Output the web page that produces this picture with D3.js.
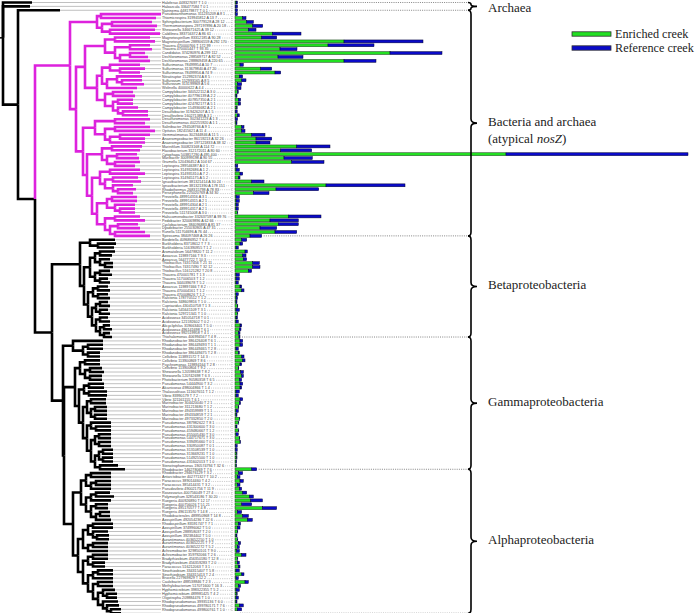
<!DOCTYPE html>
<html><head><meta charset="utf-8">
<script src="https://cdn.jsdelivr.net/npm/d3@7"></script>
<style>body{margin:0;background:#fff}svg{display:block}</style>
</head><body><svg id="c" width="696" height="613"></svg>
<script>
const taxa = [
"Haloferax 448327697 T 1 0","Haloarcula 336477584 T 0 1","Natrinema 448179877 T 0 1",
"Pseudoxanthomonas 311235209 A 8 1","Thiomicrospira 319945812 A 13 7","Sphingobacterium 300779128 A 28 12","Thermomonospora 297197896 A 20 18","Shewanella 346671625 A 39 12","Caldilinea 383756372 A 86 61",
"Magnetospirillum 83312185 A 90 28","Magnetospirillum 288906559 A 292 170","Thauera 470000766 T 172 99","Thauera 470001447 T 93 35","Candidatus 374280976 A 299 112","Dechloromonas 288569717 A 82 52","Dechloromonas 288869458 A 220 65",
"Sulfurimonas 78499954 A 10 7","Sulfurimonas 313679840 A 47 20","Sulfurimonas 78499956 A 74 9","Nitratiruptor 152992374 A 8 5","Sulfurovum 152993165 A 8 5","Sulfurovum 313199969 A 5 6","Wolinella 40000622 A 4 4",
"Campylobacter 340522112 A 3 0","Campylobacter 407796139 A 2 2","Campylobacter 407857350 A 2 1","Campylobacter 424782177 A 5 1","Campylobacter 154936682 A 2 1",
"Desulfobacter 319426207 A 1 5","Desulfovibrio 160271389 A 3 1","Desulfuromonas 302341223 A 1 3","Desulfuromonas 402255920 A 1 1",
"Salinibacter 294508766 A 9 1","Opitutus 182415621 A 11 4","Gemmatimonas 302344846 A 11 5","Anaeromyxobacter 86159213 A 32 26","Anaeromyxobacter 197121833 A 38 32",
"Marinifilum 300823168 A 114 72","Flavobacterium 312172011 A 80 60","Cytophaga 503817290 A 495 400","Maribacter 300999198 A 90 55","Gramella 120436452 A 104 67",
"Leptospira 289546387 A 0 1","Leptospira 314932686 A 1 2","Leptospira 314935310 A 7 2","Leptospira 314945175 A 5 2","Ignavibacterium 381321414 A 30 24",
"Ignavibacterium 381321390 A 178 151","Rhodothermus 268315798 A 78 83","Persephonella 225020769 A 34 30",
"Prevotella 489914316 A 3 1","Prevotella 489914315 A 2 1","Prevotella 489914304 A 2 1","Prevotella 489914317 A 2 1","Prevotella 511745008 A 3 0",
"Haliscomenobacter 332637597 A 99 76","Pedobacter 320069896 A 62 66","Cyclobacterium 384096883 A 81 37","Dyadobacter 255030905 A 47 31","Runella 511704696 A 76 44","Spirosoma 384097468 A 26 26",
"Bordetella 409686952 T 6 4","Burkholderia 83718612 T 7 3","Burkholderia 516390955 T 1 2","Aromatoleum 56478820 T 11 2","Azoarcus 119897166 T 9 3","Azoarcus 56477722 T 10 3",
"Thiobacillus 74317456 T 21 11","Thiobacillus 74317490 T 32 12","Thiobacillus 516121282 T 20 8","Thauera 470001781 T 1 3","Thauera 517006503 T 1 2","Thauera 344039678 T 5 2",
"Azoarcus 119897466 T 8 2","Thauera 470004161 T 1 2","Thauera 470008626 T 1 2","Ralstonia 178770512 T 1 2","Ralstonia 348609816 T 1 0","Cupriavidus 430410758 T 1 3",
"Ralstonia 545641109 T 3 1","Ralstonia 529721341 T 1 0","Acidovorax 345054718 T 0 1","Acidovorax 121592602 T 0 2","Alicycliphilus 319663401 T 5 0","Acidovorax 496141698 T 6 1","Acidovorax 992519958 T 4 1",
"Thiohalomonas 406994567 T 4 8","Rhodanobacter 386426408 T 6 1","Rhodanobacter 386449493 T 1 1","Rhodanobacter 386449465 T 2 8","Rhodanobacter 386449475 T 2 8",
"Cellvibrio 113891572 T 14 3","Cellvibrio 113900869 T 8 6","Psychromonas 119894164 T 2 8","Cellvibrio 113900804 T 9 2","Shewanella 120598638 T 8 2","Shewanella 120742698 T 6 3",
"Photobacterium 90580358 T 6 5","Pseudomonas 54444900 T 3 2","Alcanivorax 498004866 T 1 4","Thalassolituus 111607651 T 1 2","Vibrio 83990179 T 7 2","Vibrio 321161155 T 6 1",
"Marinobacter 304420040 T 2 1","Marinobacter 311213680 T 1 2","Marinobacter 494359989 T 1 1","Marinobacter 494334859 T 2 1","Marinobacter 497332850 T 2 0",
"Pseudomonas 387982622 T 8 1","Pseudomonas 431300600 T 3 0","Pseudomonas 459480667 T 1 2","Pseudomonas 455005430 T 3 0","Pseudomonas 544717671 T 3 0","Pseudomonas 339495660 T 0 1",
"Pseudomonas 330950087 T 0 1","Pseudomonas 313108539 T 1 0","Pseudomonas 313669231 T 1 0","Pseudomonas 514925500 T 1 0","Pseudomonas 431602013 T 1 0","Stenotrophomonas 190574794 T 32 6",
"Rhodobacter 146278069 T 7 6","Rhodobacter 294676129 T 3 2","Antarctobacter 402771327 T 10 2","Paracoccus 389014460 T 4 2","Paracoccus 385414431 T 3 2","Pseudovibrio 490021756 T 11 9",
"Roseovarius 400756049 T 27 4","Polymorphum 328543186 T 30 20","Ruegeria 400926890 T 12 17","Ruegeria 400756026 T 51 21","Ruegeria 495170577 T 4 8","Ruegeria 496113570 T 14 8",
"Rhodobacterales 489950968 T 14 8","Azospirillum 492054236 T 22 6","Rhodospirillum 83591747 T 7 1","Azospirillum 374996062 T 5 0","Azospirillum 288958037 T 2 0","Azospirillum 392384402 T 5 0",
"Aurantimonas 403652250 T 1 0","Aurantimonas 403652225 T 7 2","Aurantimonas 403652272 T 5 2","Achromobacter 329850101 T 9 0","Achromobacter 359792066 T 2 6","Bradyrhizobium 456350180 T 12 8",
"Bradyrhizobium 456359283 T 2 0","Paracoccus 516212063 T 3 1","Sinorhizobium 334315407 T 5 8","Sinorhizobium 334315413 T 2 4","Brucella 227969829 T 12 2","Caulobacter 488538846 T 2 3",
"Methylobacterium 517071600 T 16 3","Hyphomicrobium 398322355 T 5 2","Hyphomicrobium 489981425 T 4 2","Oligotropha 209884476 T 1 0","Rhodopseudomonas 39935136 T 6 0","Rhodopseudomonas 499780171 T 7 6","Rhodopseudomonas 499800761 T 1 0"
];
const enriched = [1,0.5,0.5,0.5,7.7,11.7,17.7,13.3,37.3,26.7,109,93,45,155,43,109,5,25.7,40,4.3,6.7,2.3,2,2.3,1,3.3,3.3,1.7,0.5,2.3,
0.5,1,6.7,6.7,16.7,21,21,61.7,45.7,271,49,56.7,0.5,1,5,3.3,16.7,91,41,18.3,1,1,1,1,2.3,53.3,35,43.3,25,40,15,
6.7,5,1,10,7.7,8.3,17.7,17.7,13.3,1,1,1,5,6.7,1,1,1,2.3,1,2.3,1,1,5,4.3,3.3,4,
5,5,1,3.3,6.7,7.7,5,3.3,5.7,6.7,4.3,5,5,1,1,5,4.3,3.3,1,1,4.3,3.3,1,3.3,1,4.3,5,0.5,0.5,1.7,1.7,1,1,16.7,
3.3,2.3,5,2.3,4.3,7.7,14.3,15.7,6.7,27.3,2.3,7.7,12.3,3.3,2.3,2.3,1,2.3,3.3,2.3,1.7,6.7,2.3,2.3,3.3,1,6.7,1,10,3.3,1,1.7,1,1,4.3,2.3,1.5];
const reference = [1.5,2,2,2,3.3,6.7,10,7.7,28.7,15,79,46,17,52,25,32,3.3,11,5.7,3.3,4.3,4.3,4,1,1,2.3,2.3,0.5,1.7,2,
2,1,2.3,3.3,13.3,15.7,14,33.3,31,182,28.3,32.3,2.3,3.3,2.7,1.7,12.3,79,42.7,15.7,3.3,3.3,2.3,2.3,0.5,32.7,28.3,20,16.7,21.7,11.7,
5,2.7,2.3,2.3,3.3,3.3,6.7,7.3,3.3,3.3,3.3,2.3,1.7,2.3,2.3,1.5,1,0.5,3.3,0.5,1.5,2.3,1.7,1.7,1.7,1,
2.7,2.7,2.3,1,2.3,2.3,1.7,0.5,2.7,1.7,2.3,2.7,1.7,3.3,2.3,2.7,1.3,0.5,2.3,1,0.5,0.5,1,0.5,2.3,0.5,0.5,1.7,1.7,0.3,0.3,0.5,0.5,5,
4.3,2.7,3.3,2.7,2.3,4,4,11.7,10,14.3,4.3,5.7,5,2.3,2.7,0.5,1,0.5,2.3,2,2.7,4.3,0.5,2,1.7,3.3,2.3,2.3,3.3,2.3,3.3,0.5,2.3,1,4,4.3,1.5];

// Newick pieces of the tree (branch lengths in tree units)
const nwT   = "((L3:60,L4:55):4,((L5:40,L6:45):10,(L7:45,L8:50):8):5)";
const nwU11 = "((L9:35,L10:40):10,((L11:20,L12:22):15,((L13:15,L14:18):10,L15:30):5):10)";
const nwV1  = "((L16:30,(L17:25,L18:20):10):8,((L19:25,(L20:20,L21:22):5):10,L22:30):5)";
const nwV2  = "((L23:20,L24:22):8,((L25:15,L26:15):5,(L27:20,(L28:25,L29:25):5):5):8)";
const nwU21 = "((L30:35,L31:30):20,((L32:35,L33:40):10,((L34:30,L35:25):10,L36:35):5):10)";
const nwW1  = "((L37:30,L38:28):10,((L39:20,L40:22):10,(L41:25,L42:20):8):5)";
const nwX1  = "((L43:30,L44:35):10,((L45:25,L46:28):8,(L47:20,(L48:18,L49:15):5):8):5)";
const nwX2  = "(((L50:25,L51:25):5,(L52:20,(L53:15,L54:15):5):8):10,((L55:25,L56:30):10,((L57:20,L58:22):8,(L59:30,L60:35):5):5):8)";
const nwBa  = "(L61:25,(L62:18,L63:16):8)";
const nwBb1 = "(((L64:15,L65:12):5,(L66:10,(L67:8,L68:8):5):5):5,((L69:10,L70:12):5,(L71:8,L72:10):5):5)";
const nwBb2 = "(((L73:10,L74:12):5,(L75:10,L76:12):5):5,(((L77:8,L78:10):4,(L79:8,L80:10):4):4,((L81:8,L82:10):4,((L83:6,L84:8):4,(L85:6,L86:8):4):4):4):4)";
const nwG1  = "(L87:30,((L88:15,L89:15):5,(L90:12,L91:12):5):10)";
const nwG2  = "(((L92:15,L93:15):5,((L94:12,L95:14):5,(L96:12,L97:12):5):5):5,(((L98:15,L99:15):5,(L100:18,L101:18):5):5,(((L102:15,L103:15):4,((L104:12,L105:12):4,(L106:12,L107:12):4):4):4,((L108:20,(L109:15,L110:15):5):4,(((L111:12,L112:12):4,(L113:12,L114:12):4):4,(((L115:10,L116:10):4,(L117:10,L118:10):4):4,(L119:18,L120:25):5):4):4):4):4):4)";
const nwA1  = "(((L121:20,L122:20):5,((L123:15,L124:15):5,L125:20):5):5,(((L126:14,L127:18):5,L128:20):5,((L129:12,L130:12):5,((L131:10,L132:10):4,L133:15):5):5):5)";
const nwA2  = "((((L134:20,L135:20):5,(L136:15,(L137:12,L138:12):4):5):5,((L139:15,L140:15):5,L141:20):5):5,(((L142:15,L143:15):5,(L144:12,L145:12):5):5,(((L146:15,L147:15):5,L148:20):5,((L149:15,L150:15):5,((L151:12,(L152:10,L153:10):4):5,(L154:15,(L155:12,(L156:10,L157:10):4):4):5):5):5):5):5)";

const groups = [
  {name:["Archaea"], last:2},
  {name:["Bacteria and archaea","(atypical |nosZ|)"], last:60},
  {name:["Betaproteobacteria"], last:86},
  {name:["Gammaproteobacteria"], last:120},
  {name:["Alphaproteobacteria"], last:157}
];
const seriesNames = ["Enriched creek","Reference creek"];
const seriesColors = ["#22e022","#0a0ac8"];

// assemble tree
const nwM = `(${nwT}:27,((${nwU11}:20,(${nwV1}:5,${nwV2}:8):12):9,(${nwU21}:12,(${nwW1}:15,(${nwX1}:8,${nwX2}:5):5):4):7):6)`;
const nwBeta = `(${nwBa}:10,(${nwBb1}:6,${nwBb2}:4):4)`;
const nwAlpha = `(${nwA1}:8,${nwA2}:5)`;
const nwF = `(${nwG2}:11,${nwAlpha}:9)`;
const nwE = `(${nwG1}:10,${nwF}:1)`;
const nwD = `(${nwBeta}:28,${nwE}:11)`;
const nwC = `(${nwM}M:35,${nwD}:17)`;
const newick = `(L0:29,L1:27,(L2:42,${nwC}:17):15);`;

function parseNewick(s){
  let i=0;
  function node(){
    const n={};
    if(s[i]==='('){
      i++; n.children=[node()];
      while(s[i]===','){i++; n.children.push(node());}
      i++;
    }
    let name='';
    while(i<s.length && !':,);'.includes(s[i])) name+=s[i++];
    n.name=name.trim();
    n.length=0;
    if(s[i]===':'){i++; let num=''; while(i<s.length && !',);'.includes(s[i])) num+=s[i++]; n.length=+num;}
    return n;
  }
  return node();
}

const svg = d3.select("#c");
const N = taxa.length;
const yRow = d3.scaleLinear().domain([0, N-1]).range([2.5, 609.3]);
const xTree = d3.scaleLinear().domain([0, 160]).range([3, 163]);
const xBar = d3.scaleLinear().domain([0, 453]).range([235, 688]);
const labelX = 162, axisX = 232;

const root = d3.hierarchy(parseNewick(newick));
root.eachBefore(d=>{ d.len = d.parent ? d.parent.len + d.data.length : 0;
  d.magenta = d.data.name==='M' || (d.parent && d.parent.magenta); });
root.eachAfter(d=>{
  if(!d.children) d.row = +d.data.name.slice(1);
  else d.row = d3.mean(d.children, c=>c.row);
});

const gTree = svg.append("g");
gTree.selectAll("line.ext").data(root.leaves()).join("line")
  .attr("x1", d=>xTree(d.len)).attr("x2", labelX-1)
  .attr("y1", d=>yRow(d.row)).attr("y2", d=>yRow(d.row))
  .attr("stroke","#b0b0b0").attr("stroke-width",0.8);
const links = root.descendants().filter(d=>d.parent);
gTree.selectAll("path.br").data(links).join("path")
  .attr("d", d=>`M${xTree(d.parent.len)},${yRow(d.parent.row)}V${yRow(d.row)}H${xTree(d.len)}`)
  .attr("fill","none")
  .attr("stroke", d=>d.magenta ? "#dd22dd" : "#000")
  .attr("stroke-width", 2.6).attr("stroke-linecap","butt").attr("stroke-linejoin","miter");
gTree.append("line").attr("x1",0).attr("x2",xTree(0)).attr("y1",yRow(root.row)).attr("y2",yRow(root.row))
  .attr("stroke","#000").attr("stroke-width",1.5);

const gLab = svg.append("g");
const texts = gLab.selectAll("text").data(taxa).join("text")
  .attr("x", labelX).attr("y", (d,i)=>yRow(i)+1.3)
  .attr("font-family","Liberation Sans, Arial, sans-serif").attr("font-size",3.7)
  .attr("fill","#444").text(d=>d);
texts.each(function(d,i){
  const w = this.getComputedTextLength();
  gLab.append("line").attr("x1", labelX+w+1.5).attr("x2", axisX)
    .attr("y1", yRow(i)+0.5).attr("y2", yRow(i)+0.5)
    .attr("stroke","#777").attr("stroke-width",0.6).attr("stroke-dasharray","0.6,1.2");
});
svg.append("line").attr("x1",axisX).attr("x2",axisX).attr("y1",0).attr("y2",612)
  .attr("stroke","#888").attr("stroke-width",0.7).attr("stroke-dasharray","0.8,1.2");

const gBar = svg.append("g");
const bh = 2.9;
taxa.forEach((t,i)=>{
  const y = yRow(i)-bh/2;
  gBar.append("rect").attr("x", xBar(0)).attr("y", y)
    .attr("width", xBar(enriched[i])-xBar(0)).attr("height", bh)
    .attr("fill", seriesColors[0]).attr("stroke","#1a3a1a").attr("stroke-width",0.5);
  gBar.append("rect").attr("x", xBar(enriched[i])).attr("y", y)
    .attr("width", xBar(enriched[i]+reference[i])-xBar(enriched[i])).attr("height", bh)
    .attr("fill", seriesColors[1]).attr("stroke","#000033").attr("stroke-width",0.5);
});

const braceX = 471;
const sepRows = [0].concat(groups.map(g=>g.last));
sepRows.forEach(r=>{
  const x0 = xBar(enriched[r]+reference[r])+2;
  svg.append("line").attr("x1",x0).attr("x2",braceX-2).attr("y1",yRow(r)).attr("y2",yRow(r))
    .attr("stroke","#666").attr("stroke-width",0.8).attr("stroke-dasharray","1,1.2");
});
groups.forEach((g,gi)=>{
  const top = gi===0 ? yRow(0) : yRow(groups[gi-1].last);
  const bot = yRow(g.last);
  const mid = (top+bot)/2;
  const c = Math.min(4, (bot-top)/4);
  const p = `M${braceX-3},${top} Q${braceX},${top} ${braceX},${top+c} L${braceX},${mid-c} Q${braceX},${mid} ${braceX+6},${mid} Q${braceX},${mid} ${braceX},${mid+c} L${braceX},${bot-c} Q${braceX},${bot} ${braceX-3},${bot}`;
  svg.append("path").attr("d",p).attr("fill","none").attr("stroke","#000").attr("stroke-width",1.6);
  g.name.forEach((ln,li)=>{
    const t = svg.append("text").attr("x",488).attr("y", Math.max(mid + 3, 11.5) + li*17)
      .attr("font-family","Liberation Serif, Times New Roman, serif").attr("font-size",13).attr("fill","#222");
    ln.split("|").forEach((part,pi)=>{
      t.append("tspan").attr("font-style", pi===1 ? "italic" : "normal").text(part);
    });
  });
});

seriesNames.forEach((s,i)=>{
  const y = 34 + i*14;
  svg.append("rect").attr("x",572).attr("y",y-2.2).attr("width",39).attr("height",4.4)
    .attr("fill",seriesColors[i]).attr("stroke","#333").attr("stroke-width",0.8);
  svg.append("text").attr("x",615).attr("y",y+4.3).text(s)
    .attr("font-family","Liberation Serif, Times New Roman, serif").attr("font-size",12.2).attr("fill","#222");
});
</script></body></html>
